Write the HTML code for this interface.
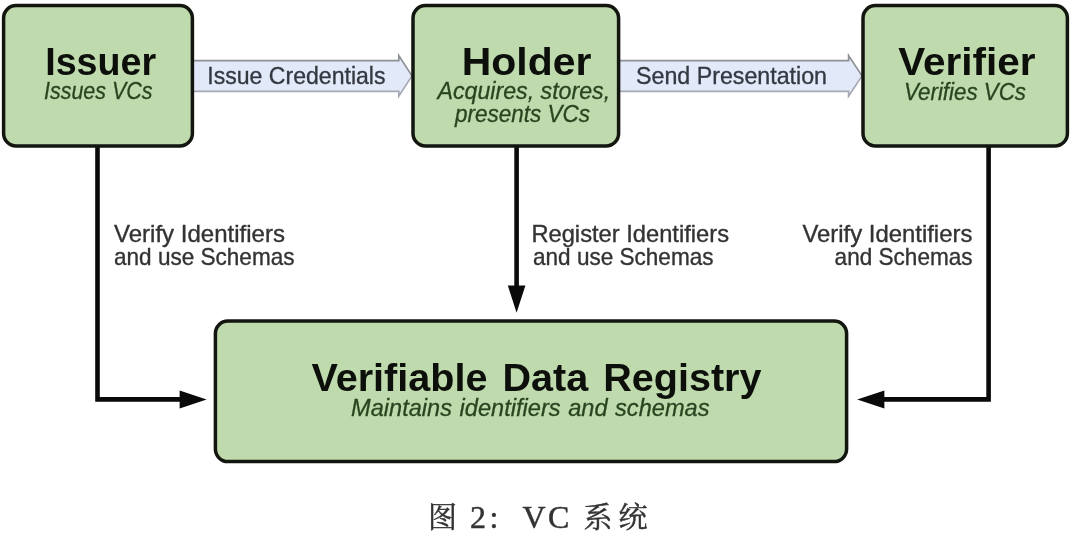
<!DOCTYPE html>
<html lang="zh">
<head>
<meta charset="utf-8">
<title>VC 系统</title>
<style>
  html, body { margin: 0; padding: 0; background: #ffffff; }
  body { width: 1080px; height: 534px; overflow: hidden; }
  svg { display: block; filter: blur(0.65px); }
  .box { fill: #bfdbae; stroke: #12160f; stroke-width: 3.5; }
  .ln { fill: none; stroke: #0a0a0a; stroke-width: 4.6; stroke-linejoin: miter; }
  .ah { fill: #0a0a0a; }
  .bf { fill: #e2e9f8; stroke: none; }
  .bt { fill: none; stroke: #8e9096; stroke-width: 1.7; stroke-linejoin: miter; }
  .bb { fill: none; stroke: #a6a9b4; stroke-width: 1.7; stroke-linejoin: miter; }
  .t { font-family: "Liberation Sans", sans-serif; font-weight: bold; font-size: 39.2px; fill: #0d0f0b; }
  .s { font-family: "Liberation Sans", sans-serif; font-style: italic; font-size: 23.5px; fill: #284520; stroke: #284520; stroke-width: 0.3px; }
  .l { font-family: "Liberation Sans", sans-serif; font-size: 23.4px; fill: #333333; stroke: #333333; stroke-width: 0.35px; }
  .a { font-family: "Liberation Sans", sans-serif; font-size: 24.8px; fill: #343841; stroke: #343841; stroke-width: 0.35px; }
  .c { font-family: "Liberation Serif", "Noto Serif CJK SC", serif; font-size: 29px; fill: #333333; stroke: #333333; stroke-width: 0.45px; }
  .cj { font-size: 29px; }
  .la { font-size: 32px; }
</style>
</head>
<body>
<svg width="1080" height="534" viewBox="0 0 1080 534">
  <rect x="0" y="0" width="1080" height="534" fill="#ffffff"/>

  <!-- connectors -->
  <path class="ln" d="M97.5 146 V399.4 H182"/>
  <polygon class="ah" points="179.6,390.4 206.6,399.4 179.6,408.4"/>
  <path class="ln" d="M516.6 146 V288"/>
  <polygon class="ah" points="507.8,285.6 525.4,285.6 516.6,312.8"/>
  <path class="ln" d="M988.6 146 V399.4 H882"/>
  <polygon class="ah" points="884.4,390.4 857.2,399.4 884.4,408.4"/>

  <!-- block arrows -->
  <polygon class="bf" points="193,60.7 398.8,60.7 398.8,55.6 412,75.9 398.8,96.2 398.8,91.3 193,91.3"/>
  <polyline class="bt" points="193,60.7 398.8,60.7 398.8,55.6 412,75.9"/>
  <polyline class="bb" points="193,91.3 398.8,91.3 398.8,96.2 412,75.9"/>
  <polygon class="bf" points="619,60.7 848.6,60.7 848.6,55.6 862,75.9 848.6,96.2 848.6,91.3 619,91.3"/>
  <polyline class="bt" points="619,60.7 848.6,60.7 848.6,55.6 862,75.9"/>
  <polyline class="bb" points="619,91.3 848.6,91.3 848.6,96.2 862,75.9"/>

  <!-- boxes -->
  <rect class="box" x="3.6" y="5.6" width="188.8" height="140.4" rx="12.5" ry="12.5"/>
  <rect class="box" x="413" y="5.6" width="205.6" height="140.4" rx="12.5" ry="12.5"/>
  <rect class="box" x="863" y="5.6" width="204.4" height="140.4" rx="12.5" ry="12.5"/>
  <rect class="box" x="215.4" y="321" width="631.2" height="140.6" rx="12.5" ry="12.5"/>

  <!-- box text -->
  <text class="t" x="45.2" y="75.2" textLength="111" lengthAdjust="spacingAndGlyphs">Issuer</text>
  <text class="s" x="44" y="99.3" textLength="108.5" lengthAdjust="spacingAndGlyphs">Issues VCs</text>

  <text class="t" x="461.8" y="75.2" textLength="129.6" lengthAdjust="spacingAndGlyphs">Holder</text>
  <text class="s" x="437.5" y="99" textLength="172.6" lengthAdjust="spacingAndGlyphs">Acquires, stores,</text>
  <text class="s" x="455" y="122.3" textLength="135" lengthAdjust="spacingAndGlyphs">presents VCs</text>

  <text class="t" x="898.2" y="75.2" textLength="137.2" lengthAdjust="spacingAndGlyphs">Verifier</text>
  <text class="s" x="904" y="100" textLength="122" lengthAdjust="spacingAndGlyphs">Verifies VCs</text>

  <text class="t" style="word-spacing:4px" x="311.5" y="390.7" textLength="450" lengthAdjust="spacingAndGlyphs">Verifiable Data Registry</text>
  <text class="s" style="word-spacing:1px" x="351" y="416" textLength="358.5" lengthAdjust="spacingAndGlyphs">Maintains identifiers and schemas</text>

  <!-- arrow text -->
  <text class="a" x="207.3" y="83.5" textLength="178.2" lengthAdjust="spacingAndGlyphs">Issue Credentials</text>
  <text class="a" x="636" y="83.5" textLength="191" lengthAdjust="spacingAndGlyphs">Send Presentation</text>

  <!-- labels -->
  <text class="l" x="114" y="242.4" textLength="171" lengthAdjust="spacingAndGlyphs">Verify Identifiers</text>
  <text class="l" x="114" y="264.9" textLength="180.5" lengthAdjust="spacingAndGlyphs">and use Schemas</text>

  <text class="l" x="531.4" y="242.4" textLength="197.6" lengthAdjust="spacingAndGlyphs">Register Identifiers</text>
  <text class="l" x="533" y="264.9" textLength="180.5" lengthAdjust="spacingAndGlyphs">and use Schemas</text>

  <text class="l" x="802.4" y="242.4" textLength="170" lengthAdjust="spacingAndGlyphs">Verify Identifiers</text>
  <text class="l" x="834.6" y="264.9" textLength="138" lengthAdjust="spacingAndGlyphs">and Schemas</text>

  <!-- caption -->
  <text class="c" y="528"><tspan class="cj" x="428">图</tspan> <tspan class="la" x="470">2</tspan><tspan class="la" x="489.5">:</tspan> <tspan class="la" x="522.5">V</tspan><tspan class="la" x="548">C</tspan> <tspan class="cj" x="583.5">系</tspan><tspan class="cj" x="618.5">统</tspan></text>
</svg>
</body>
</html>
